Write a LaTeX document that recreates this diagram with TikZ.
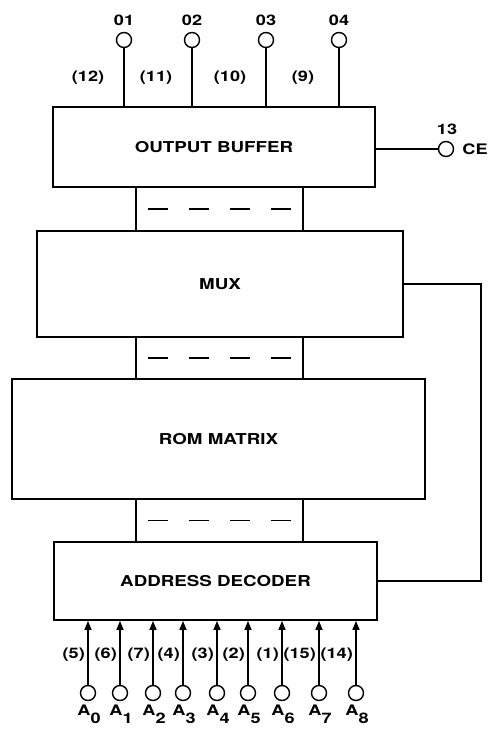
\documentclass[tikz,border=0pt]{standalone}
\usepackage{fontspec}
\setmainfont{TeX Gyre Heros}[FakeStretch=1.25]
\usetikzlibrary{positioning, arrows.meta, calc}

\begin{document}
\begin{tikzpicture}[
    x=1pt, y=-1pt,
    font=\fontsize{14.5}{16}\selectfont\bfseries,
    block/.style={rectangle, draw, line width=1.8pt, inner sep=0pt, font=\fontsize{15}{18}\selectfont\bfseries},
    pin/.style={circle, draw, line width=1.4pt, minimum size=15pt, inner sep=0pt},
    wire/.style={line width=1.4pt},
    busdash/.style={line width=1.5pt, dash pattern=on 20pt off 21pt},
    arrow/.style={-{Triangle[length=9pt, width=7pt]}, line width=1.4pt}
]
    \useasboundingbox (0,0) rectangle (494,738);

    % blocks
    \node [block, minimum width=322pt, minimum height=80pt] (buf) at (214,147) {OUTPUT BUFFER};
    \node [block, minimum width=366pt, minimum height=106pt] (mux) at (220,284) {MUX};
    \node [block, minimum width=413pt, minimum height=120pt] (rom) at (218.5,439) {ROM MATRIX};
    \node [block, minimum width=323pt, minimum height=78pt] (dec) at (215.5,581) {ADDRESS DECODER};

    % buses between blocks
    \coordinate (busL) at (136,0);
    \coordinate (busR) at (303,0);
    \coordinate (dashL) at (148,0);
    \coordinate (dashR) at (293,0);
    \foreach \a/\b [count=\i] in {buf/mux, mux/rom, rom/dec} {
        \draw [wire] (\a.south -| busL) -- (\b.north -| busL);
        \draw [wire] (\a.south -| busR) -- (\b.north -| busR);
        \coordinate (mid\i) at ($(\a.south)!0.5!(\b.north)$);
        \draw [busdash] (mid\i -| dashL) -- (mid\i -| dashR);
    }

    % outputs
    \foreach \x/\n/\p [count=\i] in {124/01/12, 192/02/11, 266/03/10, 339/04/9} {
        \node [pin] (out\i) at (\x,40) {};
        \node (outlab\i) at (\x,20) {\n};
        \node (outnum\i) at (\x-36,78) {(\p)};
        \draw [wire] (out\i) -- (out\i |- buf.north);
    }

    % chip enable
    \node [pin] (ce) at (446,149) {};
    \node (cenum) at (447,129) {13};
    \node (celab) at (475,149) {CE};
    \draw [wire] (buf.east |- ce) -- (ce);

    % mux to decoder
    \draw [wire] (mux.east) -- ++(77,0) |- (dec.east);

    % address inputs
    \foreach \x/\p [count=\i from 0] in {88/5, 120/6, 153/7, 183/4, 217/3, 248/2, 282/1, 319/15, 356/14} {
        \node [pin] (in\i) at (\x,693) {};
        \node (inlab\i) at (\x+1,714) {A\lower8pt\hbox{\i}};
        \node [anchor=east, inner sep=1pt] (innum\i) at (\x-2,655) {(\p)};
        \draw [arrow] (in\i) -- (in\i |- dec.south);
    }
\end{tikzpicture}
\end{document}
